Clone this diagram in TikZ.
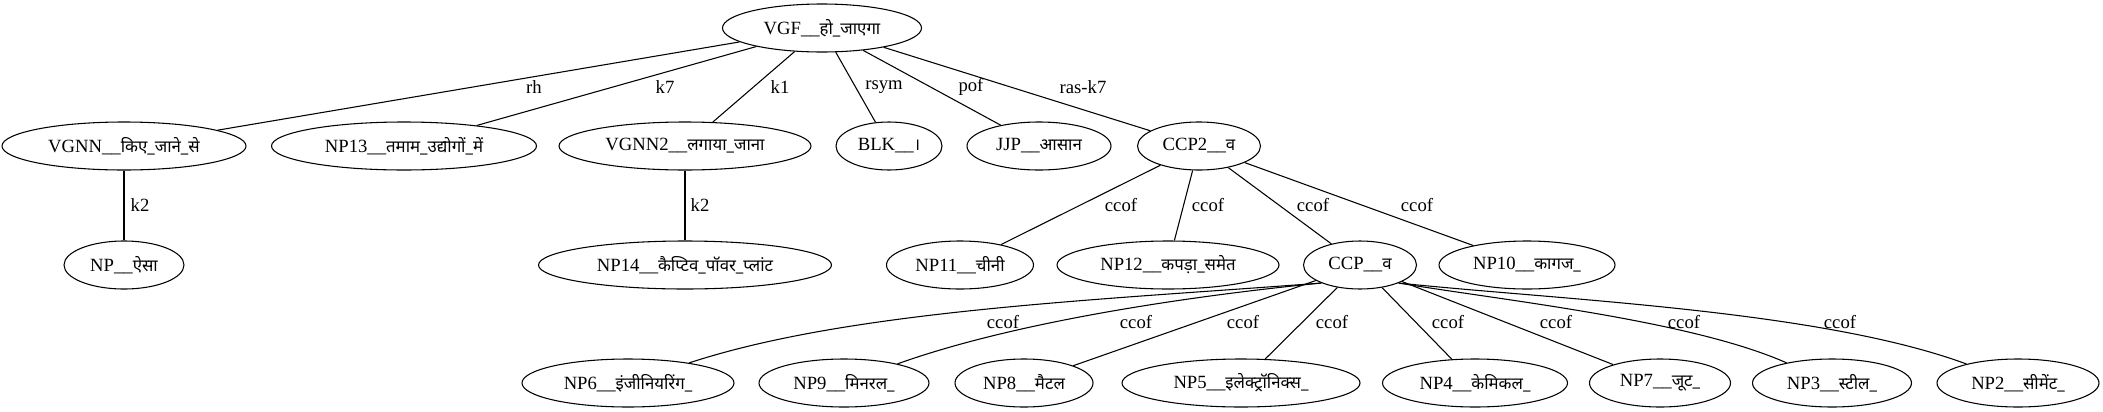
\documentclass[tikz,border=0pt]{standalone}
\usepackage{fontspec}
\setmainfont{Liberation Serif}
\newfontfamily\devfont[Script=Devanagari,Scale=0.9]{Noto Sans}
\usetikzlibrary{shapes.geometric}
\newcommand{\dv}[1]{{\devfont #1}}

\begin{document}
\begin{tikzpicture}[x=0.75pt,y=0.75pt,line width=0.8pt,
  nd/.style={draw,ellipse,inner sep=0pt,minimum height=36pt,minimum width=#1*0.75pt,font=\fontsize{14}{16}\selectfont},
  lbl/.style={inner sep=0pt,font=\fontsize{14}{16}\selectfont}]
\useasboundingbox (0,0) rectangle (2103,-411);
\node[nd=199] (vgf) at (822,-28) {VGF\_\_\dv{हो\_जाएगा}};
\node[nd=244] (vgnn) at (124,-146) {VGNN\_\_\dv{किए\_जाने\_से}};
\node[nd=265] (np13) at (404,-146) {NP13\_\_\dv{तमाम\_उद्योगों\_में}};
\node[nd=252] (vgnn2) at (685,-146) {VGNN2\_\_\dv{लगाया\_जाना}};
\node[nd=106] (blk) at (889,-146) {BLK\_\_\dv{।}};
\node[nd=144] (jjp) at (1039,-146) {JJP\_\_\dv{आसान}};
\node[nd=123] (ccp2) at (1199,-146) {CCP2\_\_\dv{व}};
\node[nd=120] (np) at (124,-265) {NP\_\_\dv{ऐसा}};
\node[nd=293] (np14) at (685,-265) {NP14\_\_\dv{कैप्टिव\_पॉवर\_प्लांट}};
\node[nd=147] (np11) at (960,-265) {NP11\_\_\dv{चीनी}};
\node[nd=222] (np12) at (1168,-265) {NP12\_\_\dv{कपड़ा\_समेत}};
\node[nd=113] (ccp) at (1360,-265) {CCP\_\_\dv{व}};
\node[nd=176] (np10) at (1527,-265) {NP10\_\_\dv{कागज\_}};
\node[nd=212] (np6) at (628,-383) {NP6\_\_\dv{इंजीनियरिंग\_}};
\node[nd=170] (np9) at (844,-383) {NP9\_\_\dv{मिनरल\_}};
\node[nd=138] (np8) at (1024,-383) {NP8\_\_\dv{मैटल}};
\node[nd=238] (np5) at (1241,-383) {NP5\_\_\dv{इलेक्ट्रॉनिक्स\_}};
\node[nd=185] (np4) at (1475,-383) {NP4\_\_\dv{केमिकल\_}};
\node[nd=141] (np7) at (1660,-383) {NP7\_\_\dv{जूट\_}};
\node[nd=159] (np3) at (1832,-383) {NP3\_\_\dv{स्टील\_}};
\node[nd=162] (np2) at (2018,-383) {NP2\_\_\dv{सीमेंट\_}};
\draw (vgf) -- (vgnn);
\draw (vgf) -- (np13);
\draw (vgf) -- (vgnn2);
\draw (vgf) -- (blk);
\draw (vgf) -- (jjp);
\draw (vgf) -- (ccp2);
\draw (vgnn) -- (np);
\draw (vgnn2) -- (np14);
\draw (ccp2) -- (np11);
\draw (ccp2) -- (np12);
\draw (ccp2) -- (ccp);
\draw (ccp2) -- (np10);
\draw (ccp.205) .. controls (1100,-300) and (850,-310) .. (np6);
\draw (ccp.205) .. controls (1200,-295) and (1020,-320) .. (np9);
\draw (ccp) -- (np8);
\draw (ccp) -- (np5);
\draw (ccp) -- (np4);
\draw (ccp) -- (np7);
\draw (ccp.335) .. controls (1500,-300) and (1690,-320) .. (np3);
\draw (ccp.335) .. controls (1560,-300) and (1820,-310) .. (np2);
\node[lbl] (l1) at (534,-87) {rh};
\node[lbl] (l2) at (665,-87) {k7};
\node[lbl] (l3) at (780,-87) {k1};
\node[lbl] (l4) at (884,-87) {rsym};
\node[lbl] (l5) at (971,-87) {pof};
\node[lbl] (l6) at (1083,-87) {ras-k7};
\node[lbl] (l7) at (140,-205) {k2};
\node[lbl] (l8) at (700,-205) {k2};
\node[lbl] (l9) at (1121,-205) {ccof};
\node[lbl] (l10) at (1208,-205) {ccof};
\node[lbl] (l11) at (1313,-205) {ccof};
\node[lbl] (l12) at (1417,-205) {ccof};
\node[lbl] (l13) at (1003,-322) {ccof};
\node[lbl] (l14) at (1136,-322) {ccof};
\node[lbl] (l15) at (1243,-322) {ccof};
\node[lbl] (l16) at (1332,-322) {ccof};
\node[lbl] (l17) at (1448,-322) {ccof};
\node[lbl] (l18) at (1556,-322) {ccof};
\node[lbl] (l19) at (1684,-322) {ccof};
\node[lbl] (l20) at (1840,-322) {ccof};
\end{tikzpicture}
\end{document}
